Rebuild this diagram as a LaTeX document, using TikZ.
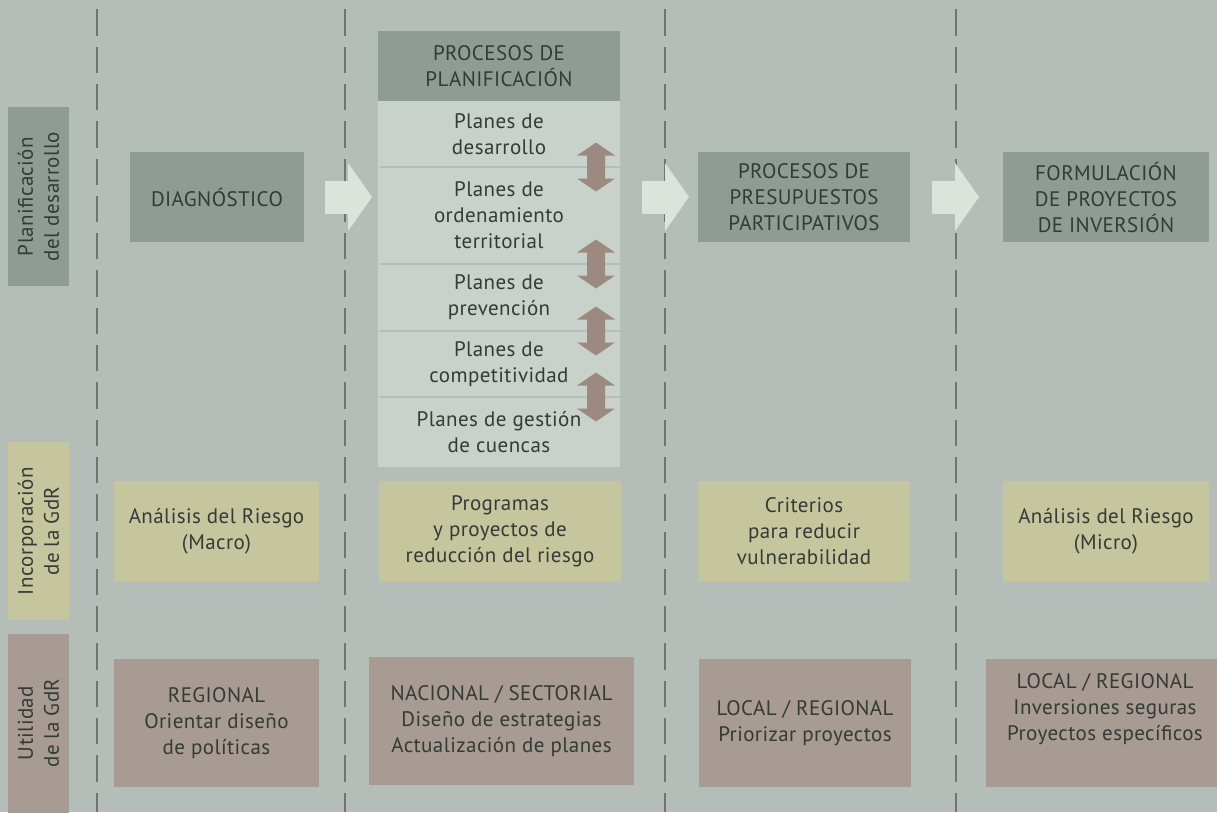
\documentclass[tikz,border=0pt]{standalone}
\usepackage{fontspec}
\setmainfont[LetterSpace=2.0]{PT Sans}
\usepackage{tikz}
\usetikzlibrary{arrows.meta,positioning}

\definecolor{bg}{HTML}{B4BDB7}
\definecolor{sage}{HTML}{8E9C94}
\definecolor{mist}{HTML}{C9D2CA}
\definecolor{pale}{HTML}{DCE3DA}
\definecolor{straw}{HTML}{C6C69E}
\definecolor{clay}{HTML}{A89B93}
\definecolor{taupe}{HTML}{9C8A80}
\definecolor{rule}{HTML}{717471}
\definecolor{ink}{HTML}{343A36}

\begin{document}
\begin{tikzpicture}[x=1pt,y=-1pt]
  \tikzstyle{element}=[rectangle, inner sep=2pt, outer sep=0pt, align=center, text=ink, font=\fontsize{21}{26}\selectfont]
  \tikzstyle{process}=[element, fill=sage, minimum height=90pt]
  \tikzstyle{item}=[element, fill=mist, minimum width=242pt]
  \tikzstyle{riskbox}=[element, fill=straw, minimum height=100pt]
  \tikzstyle{utilbox}=[element, fill=clay, minimum height=128pt]
  \tikzstyle{rowlabel}=[element, rotate=90, minimum width=179pt, minimum height=61pt]
  \tikzstyle{leadsto}=[-{Triangle[length=24pt,width=67pt]}, line width=33pt, draw=pale]
  \tikzstyle{twoway}=[fill=taupe]
  \tikzstyle{divider}=[draw=rule, line width=2.7pt, dash pattern=on 26.3pt off 11pt]
  \tikzstyle{separator}=[draw=bg, line width=2pt, shorten <=2pt]

  \fill[bg] (0,0) rectangle (1217,812);
  \useasboundingbox (0,0) rectangle (1217,812);

  % column dividers
  \foreach \x in {97,345,665,956}
    \draw[divider] (\x,9.3) -- (\x,812);

  % = row labels =
  \node[rowlabel, fill=sage] (planif) at (38.5,196.5) {Planificación\\del desarrollo};
  \node[rowlabel, fill=straw, minimum width=178pt] (incorp) at (38.5,531) {Incorporación\\de la GdR};
  \node[rowlabel, fill=clay] (util) at (38.5,723) {Utilidad\\de la GdR};

  % = planning processes =
  \node[process, minimum width=174pt] (diag) at (217,197) {DIAGNÓSTICO};
  \node[process, minimum width=242pt, minimum height=70pt] (header) at (499,66) {PROCESOS DE\\PLANIFICACIÓN};
  \node[item, minimum height=66pt, below=0pt of header] (desarrollo) {Planes de\\desarrollo};
  \node[item, minimum height=97pt, below=0pt of desarrollo] (ordenamiento) {Planes de\\ordenamiento\\territorial};
  \node[item, minimum height=67pt, below=0pt of ordenamiento] (prevencion) {Planes de\\prevención};
  \node[item, minimum height=66pt, below=0pt of prevencion] (competitividad) {Planes de\\competitividad};
  \node[item, minimum height=70pt, below=0pt of competitividad] (cuencas) {Planes de gestión\\de cuencas};
  \node[process, minimum width=212pt] (presup) at (804,197) {PROCESOS DE\\PRESUPUESTOS\\PARTICIPATIVOS};
  \node[process, minimum width=206pt] (formul) at (1106,197) {FORMULACIÓN\\DE PROYECTOS\\DE INVERSIÓN};

  % separators and links between plans
  \coordinate (axis) at (596,0);
  \foreach \n in {desarrollo,ordenamiento,prevencion,competitividad} {
    \draw[separator] (\n.south west) -- (\n.south east);
    \fill[twoway] (\n.south -| axis) ++(0,-24.5) -- ++(19,13) -- ++(-10,0) -- ++(0,23)
      -- ++(10,0) -- ++(-19,13) -- ++(-19,-13) -- ++(10,0) -- ++(0,-23) -- ++(-10,0) -- cycle;
  }

  % flow arrows
  \draw[leadsto, shorten <=21pt, shorten >=6pt] (diag.east) -- (diag.east -| header.west);
  \draw[leadsto, shorten <=22pt, shorten >=9pt] (presup.west -| header.east) -- (presup.west);
  \draw[leadsto, shorten <=22pt, shorten >=24pt] (presup.east) -- (formul.west);

  % = incorporation of GdR =
  \node[riskbox, minimum width=205pt] (macro) at (216.5,531) {Análisis del Riesgo\\(Macro)};
  \node[riskbox, minimum width=242pt] (programas) at (500,531) {Programas\\y proyectos de\\reducción del riesgo};
  \node[riskbox, minimum width=212pt] (criterios) at (804,531) {Criterios\\para reducir\\vulnerabilidad};
  \node[riskbox, minimum width=206pt] (micro) at (1106,531) {Análisis del Riesgo\\(Micro)};

  % = usefulness of GdR =
  \node[utilbox, minimum width=205pt] (regional) at (216.5,723) {REGIONAL\\Orientar diseño\\de políticas};
  \node[utilbox, minimum width=265pt] (nacional) at (501.5,721) {NACIONAL / SECTORIAL\\Diseño de estrategias\\Actualización de planes};
  \node[utilbox, minimum width=212pt] (priorizar) at (805,723) {LOCAL / REGIONAL\\Priorizar proyectos};
  \node[utilbox, minimum width=236pt] (inversiones) at (1104,723) {};
  \node[element] (invtext) at (1105,709) {LOCAL / REGIONAL\\Inversiones seguras\\Proyectos específicos};
\end{tikzpicture}
\end{document}
